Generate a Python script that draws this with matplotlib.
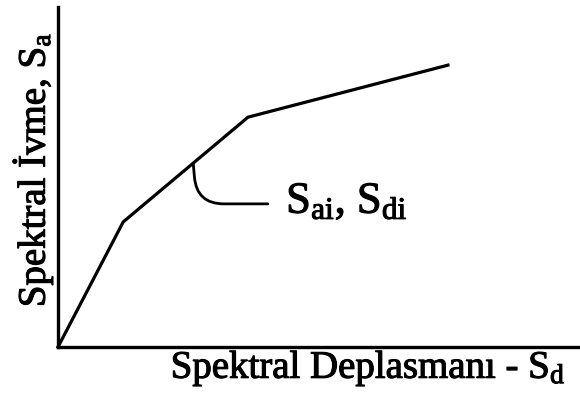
import matplotlib
matplotlib.use("Agg")
import matplotlib.pyplot as plt
import matplotlib.patheffects as pe

plt.rcParams['font.family'] = ['Liberation Serif', 'DejaVu Serif']
plt.rcParams['mathtext.fontset'] = 'custom'
plt.rcParams['mathtext.rm'] = 'Liberation Serif'
plt.rcParams['mathtext.it'] = 'Liberation Serif'

# capacity curve corner points (spectral displacement, spectral acceleration)
sd = [0.0, 1.25, 3.64, 7.47]
sa = [0.0, 3.68, 6.76, 8.29]

# point picked out on the curve and where its leader line ends
sd_i, sa_i = 2.59, 5.41
leader_sd, leader_sa = 4.02, 4.21
label_sd, label_sa = 4.37, 3.94

# thicken the text strokes a little, like a printed figure
heavy = [pe.withStroke(linewidth=0.8, foreground='black')]

fig = plt.figure(figsize=(5.8, 3.94), dpi=100)
ax = fig.add_axes([58 / 580, 47 / 394, 522 / 580, 340 / 394])
ax.set_xlim(0, 10)
ax.set_ylim(0, 10)

ax.plot(sd, sa, color='black', lw=2.3, solid_joinstyle='round', clip_on=False)

ax.annotate('', xy=(sd_i, sa_i), xytext=(leader_sd, leader_sa),
            arrowprops=dict(arrowstyle='-', color='black', lw=2.0,
                            shrinkA=0, shrinkB=0,
                            connectionstyle='angle,angleA=180,angleB=95,rad=27'))
ax.text(label_sd, label_sa, r'$\mathrm{S_{ai}}$, $\mathrm{S_{di}}$',
        fontsize=32, va='baseline', ha='left', path_effects=heavy)

for side in ['top', 'right']:
    ax.spines[side].set_visible(False)
for side in ['left', 'bottom']:
    ax.spines[side].set_linewidth(2.4)
ax.set_xticks([])
ax.set_yticks([])

fig.text(368 / 580, 1 - 378 / 394, r'Spektral Deplasmanı - $\mathrm{S_d}$',
         fontsize=28, ha='center', va='baseline', path_effects=heavy)
fig.text(33 / 580, 1 - 170 / 394, r'Spektral İvme, $\mathrm{S_a}$',
         fontsize=28, ha='center', va='center', rotation=90, path_effects=heavy)

fig.savefig('out.png', dpi=100)
